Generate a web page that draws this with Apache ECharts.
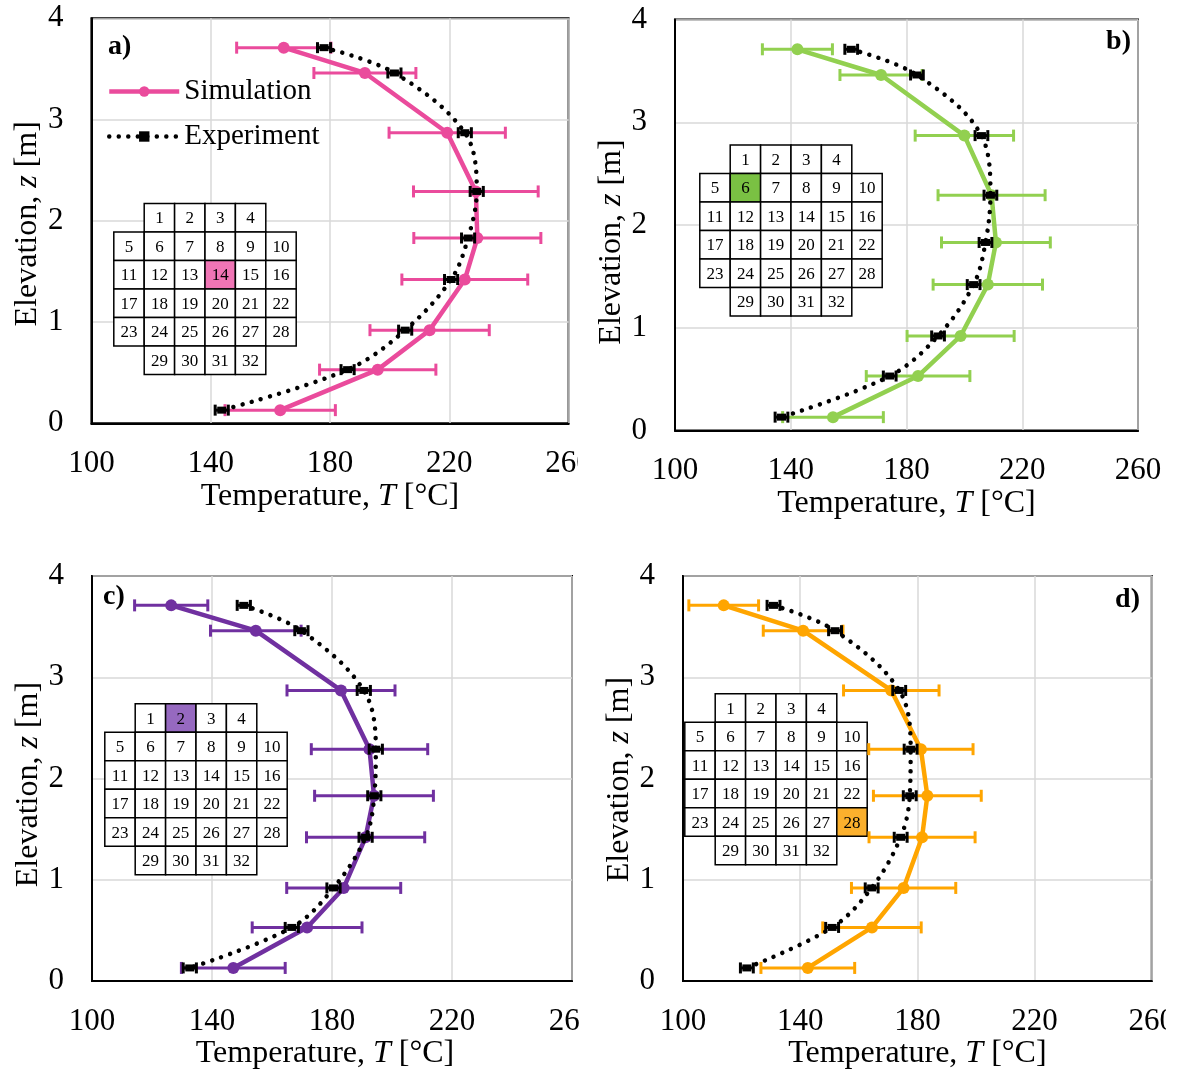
<!DOCTYPE html>
<html><head><meta charset="utf-8">
<script src="https://cdn.jsdelivr.net/npm/echarts@6/dist/echarts.min.js"></script>
<style>html,body{margin:0;padding:0;background:#fff}#c{width:1178px;height:1071px}</style>
</head><body><div id="c"></div>
<script>
// ---------------- DATA ----------------
const elevations = [3.71, 3.46, 2.87, 2.29, 1.83, 1.42, 0.92, 0.53, 0.13];

const simA = [164.5, 191.7, 219.3, 228.9, 229.4, 225.2, 213.4, 196.0, 163.3];
const simErrA = [15.8, 17.1, 19.5, 20.9, 21.3, 21.1, 20.0, 19.5, 18.5];
const expA = [178.0, 201.6, 225.2, 229.2, 226.3, 220.6, 205.2, 185.9, 143.7];

const simB = [142.3, 171.2, 200.0, 209.4, 210.9, 208.1, 198.7, 184.0, 154.6];
const simErrB = [12.1, 14.2, 17.0, 18.5, 18.8, 18.9, 18.5, 17.9, 17.4];
const expB = [160.9, 183.6, 205.9, 209.0, 207.3, 203.2, 190.9, 174.2, 136.8];

const simC = [126.4, 154.6, 183.0, 192.5, 194.0, 191.2, 183.9, 171.7, 147.1];
const simErrC = [12.2, 15.1, 18.0, 19.4, 19.8, 19.7, 19.0, 18.3, 17.3];
const expC = [150.6, 169.8, 190.6, 194.6, 194.1, 191.2, 180.5, 166.6, 132.6];

const simD = [113.9, 141.0, 171.1, 181.2, 183.4, 181.6, 175.3, 164.5, 142.6];
const simErrD = [11.9, 13.6, 16.3, 17.8, 18.4, 18.1, 17.8, 16.8, 16.0];
const expD = [130.9, 151.9, 173.8, 177.7, 177.4, 174.3, 164.4, 150.9, 121.8];

const expErr = [2.2, 2.2, 2.2, 2.2, 2.2, 2.2, 2.2, 2.2, 2.2];

const xMin = 100, xMax = 260, xStep = 40;
const yMin = 0, yMax = 4, yStep = 1;
const panelLabels = ['a)', 'b)', 'c)', 'd)'];
const highlightCells = [14, 6, 2, 28];
const cellRowCounts = [4, 6, 6, 6, 6, 4];
const cellRowOffsets = [1, 0, 0, 0, 0, 1];
const legendNames = ['Simulation', 'Experiment'];
const xTitle = '{n|Temperature, }{i|T}{n| [°C]}';
const yTitle = '{n|Elevation, }{i|z}{n| [m]}';

// ---------------- LAYOUT / STYLE ----------------
const FONT = "'Liberation Serif', 'Times New Roman', serif";
const panels = [
  { sim: simA, err: simErrA, exp: expA, color: '#EA4B9C', cell: '#F075B5',
    grid: { left: 91.4, top: 18.3, width: 477.2, height: 405 },
    inset: [113.8, 203.5], label: { x: 108, y: 47, align: 'left' },
    yPad: [0, 6, 0, 0], yGap: 48, xGap: 57, xPad: [0, 0, 0, 0] },
  { sim: simB, err: simErrB, exp: expB, color: '#92D050', cell: '#7AC143',
    grid: { left: 675, top: 19.5, width: 463, height: 411 },
    inset: [699.8, 145], label: { x: 1131, y: 42, align: 'right' },
    yPad: [0, 34, 0, 0], yGap: 45, xGap: 45, xPad: [0, 0, 0, 0] },
  { sim: simC, err: simErrC, exp: expC, color: '#7030A0', cell: '#9669C0',
    grid: { left: 92, top: 576, width: 480, height: 409.5 },
    inset: [104.8, 703.8], label: { x: 103, y: 597, align: 'left' },
    yPad: [0, 12, 0, 0], yGap: 42, xGap: 54, xPad: [0, 14, 0, 0] },
  { sim: simD, err: simErrD, exp: expD, color: '#FFA500', cell: '#FBB02D',
    grid: { left: 683, top: 576, width: 469, height: 408 },
    inset: [684.8, 693.8], label: { x: 1140, y: 600, align: 'right' },
    yPad: [0, 2, 0, 0], yGap: 44, xGap: 55, xPad: [0, 0, 0, 0] }
];
const CELL_W = 30.4, CELL_H = 28.5;

function errRender(capH, lw, color) {
  return function (params, api) {
    const z = api.value(2);
    const p1 = api.coord([api.value(0), z]);
    const p2 = api.coord([api.value(1), z]);
    const st = { stroke: color, lineWidth: lw };
    return { type: 'group', children: [
      { type: 'line', shape: { x1: p1[0], y1: p1[1], x2: p2[0], y2: p2[1] }, style: st },
      { type: 'line', shape: { x1: p1[0], y1: p1[1] - capH / 2, x2: p1[0], y2: p1[1] + capH / 2 }, style: st },
      { type: 'line', shape: { x1: p2[0], y1: p2[1] - capH / 2, x2: p2[0], y2: p2[1] + capH / 2 }, style: st }
    ]};
  };
}

const grids = [], xAxes = [], yAxes = [], series = [], graphics = [];
const richName = { n: { fontFamily: FONT, fontSize: 32, color: '#000' },
                   i: { fontFamily: FONT, fontSize: 32, color: '#000', fontStyle: 'italic' } };

panels.forEach((p, k) => {
  grids.push(Object.assign({ show: true, borderColor: '#000', borderWidth: 2, backgroundColor: '#fff' }, p.grid));
  xAxes.push({
    gridIndex: k, type: 'value', min: xMin, max: xMax, interval: xStep,
    axisLine: { show: true, onZero: false, lineStyle: { color: '#000', width: 2 } },
    axisTick: { show: false },
    axisLabel: { fontFamily: FONT, fontSize: 31, color: '#000', margin: 25 },
    splitLine: { show: true, lineStyle: { color: '#d9d9d9', width: 1.5 } },
    name: xTitle, nameLocation: 'middle', nameGap: p.xGap,
    nameTextStyle: { rich: richName, padding: p.xPad }
  });
  yAxes.push({
    gridIndex: k, type: 'value', min: yMin, max: yMax, interval: yStep,
    axisLine: { show: true, onZero: false, lineStyle: { color: '#000', width: 2 } },
    axisTick: { show: false },
    axisLabel: { fontFamily: FONT, fontSize: 31, color: '#000', margin: 28 },
    splitLine: { show: true, lineStyle: { color: '#d9d9d9', width: 1.5 } },
    name: yTitle, nameLocation: 'middle', nameGap: p.yGap, nameRotate: 90,
    nameTextStyle: { rich: richName, padding: p.yPad }
  });
  const suffix = k === 0 ? '' : ' ' + panelLabels[k];
  series.push({
    type: 'custom', name: 'simErr' + k, xAxisIndex: k, yAxisIndex: k, z: 2,
    renderItem: errRender(12, 3, p.color),
    encode: { x: [0, 1], y: 2 },
    data: p.sim.map((v, i) => [v - p.err[i], v + p.err[i], elevations[i]])
  });
  series.push({
    type: 'line', name: 'Simulation' + suffix, xAxisIndex: k, yAxisIndex: k, z: 3,
    data: p.sim.map((v, i) => [v, elevations[i]]),
    symbol: 'circle', symbolSize: 12, showSymbol: true,
    lineStyle: { color: p.color, width: 4.5 }, itemStyle: { color: p.color },
    emphasis: { disabled: true }, animation: false
  });
  series.push({
    type: 'line', name: 'Experiment' + suffix, xAxisIndex: k, yAxisIndex: k, z: 4,
    data: p.exp.map((v, i) => [v, elevations[i]]),
    smooth: 0.35, symbol: 'rect', symbolSize: [9, 7],
    lineStyle: { color: '#000', width: 4.5, type: [0.01, 9.5], cap: 'round' },
    itemStyle: { color: '#000' },
    emphasis: { disabled: true }, animation: false
  });
  series.push({
    type: 'custom', name: 'expErr' + k, xAxisIndex: k, yAxisIndex: k, z: 5,
    renderItem: errRender(11, 3, '#000'),
    encode: { x: [0, 1], y: 2 },
    data: p.exp.map((v, i) => [v - expErr[i], v + expErr[i], elevations[i]])
  });

  // inset cell map
  let num = 1;
  cellRowCounts.forEach((cnt, r) => {
    for (let c = 0; c < cnt; c++) {
      const x = p.inset[0] + (cellRowOffsets[r] + c) * CELL_W;
      const y = p.inset[1] + r * CELL_H;
      graphics.push({ type: 'rect', z: 1, shape: { x: x, y: y, width: CELL_W, height: CELL_H },
        style: { fill: num === highlightCells[k] ? p.cell : '#fff', stroke: '#000', lineWidth: 1.5 } });
      graphics.push({ type: 'text', z: 1, x: x + CELL_W / 2, y: y + CELL_H / 2 + 1,
        style: { text: String(num), fontFamily: FONT, fontSize: 17, fill: '#000', align: 'center', verticalAlign: 'middle' } });
      num++;
    }
  });
  graphics.push({ type: 'text', z: 10, x: p.label.x, y: p.label.y,
    style: { text: panelLabels[k], fontFamily: FONT, fontSize: 28, fontWeight: 'bold', fill: '#000',
             align: p.label.align, verticalAlign: 'middle' } });
});

// crop edges that cut the right-most tick label in the original figure
graphics.push({ type: 'rect', z: 100, shape: { x: 578, y: 440, width: 30, height: 45 }, style: { fill: '#fff' } });
graphics.push({ type: 'rect', z: 100, shape: { x: 580, y: 1000, width: 30, height: 45 }, style: { fill: '#fff' } });
graphics.push({ type: 'rect', z: 100, shape: { x: 1166, y: 1000, width: 20, height: 45 }, style: { fill: '#fff' } });

const chart = echarts.init(document.getElementById('c'), null, { renderer: 'canvas' });
chart.setOption({
  animation: false,
  backgroundColor: '#fff',
  grid: grids, xAxis: xAxes, yAxis: yAxes, series: series,
  legend: {
    data: legendNames, orient: 'vertical', left: 107, top: 77, padding: 0,
    itemWidth: 70, itemHeight: 13, itemGap: 16,
    lineStyle: { width: 'inherit' },
    textStyle: { fontFamily: FONT, fontSize: 29, color: '#000' },
    selectedMode: false
  },
  graphic: graphics
});
</script></body></html>
